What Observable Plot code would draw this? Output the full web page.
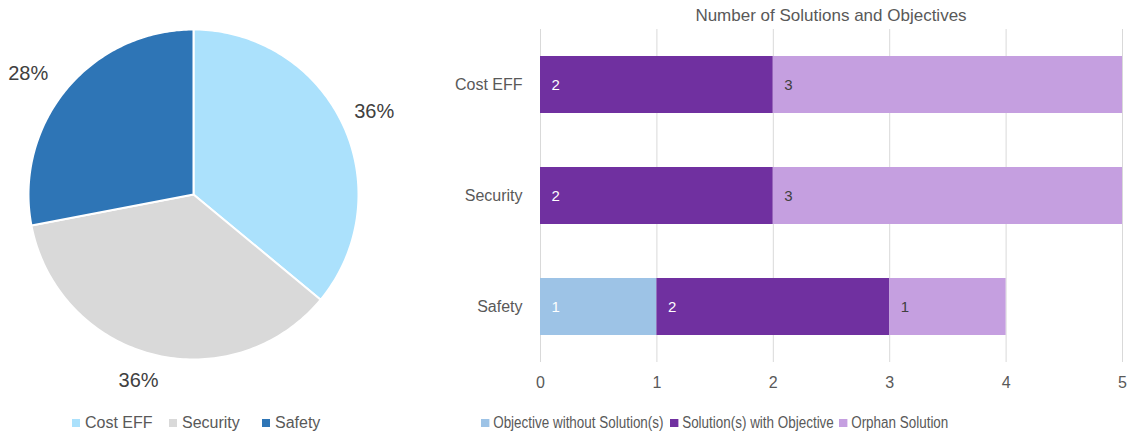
<!DOCTYPE html>
<html>
<head>
<meta charset="utf-8">
<script src="https://cdn.jsdelivr.net/npm/d3@7"></script>
<script src="https://cdn.jsdelivr.net/npm/@observablehq/plot@0.6"></script>
<style>
  html, body { margin: 0; padding: 0; background: #fff; }
  body { width: 1129px; height: 436px; position: relative; overflow: hidden; font-family: "Liberation Sans", Arial, sans-serif; }
  .abs { position: absolute; }
  .leg { position: absolute; top: 414px; font-size: 16px; color: #595959; white-space: nowrap; line-height: 18px; transform-origin: 0 50%; }
  .sw { display: inline-block; width: 8px; height: 8px; margin-right: 5px; vertical-align: 1px; }
  #title { position: absolute; left: 540px; width: 582px; top: 6px; text-align: center; font-size: 17px; color: #595959; }
</style>
</head>
<body>
<div id="pie" class="abs" style="left:0;top:0"></div>
<div id="bars" class="abs" style="left:440px;top:0"></div>
<div id="title">Number of Solutions and Objectives</div>
<div id="leg1"></div>
<div id="leg2"></div>
<script>
// ---------- data ----------
const pieCats = ["Cost EFF", "Security", "Safety"];
const pieValues = [36, 36, 28];
const pieColors = ["#ABE1FC", "#D9D9D9", "#2E75B6"];

const barCats = ["Cost EFF", "Security", "Safety"];
const seriesNames = ["Objective without Solution(s)", "Solution(s) with Objective", "Orphan Solution"];
const objWithoutSol = [0, 0, 1];
const solWithObj = [2, 2, 2];
const orphanSol = [3, 3, 1];
const seriesColors = ["#9DC3E6", "#7030A0", "#C59FE0"];
const xTicks = [0, 1, 2, 3, 4, 5];

const FONT = "Liberation Sans, Arial, sans-serif";

// ---------- pie ----------
const R = 165, cx = 193, cy = 194, PW = 386, PH = 400;
const arcs = d3.pie().sort(null).value(d => d.v)(pieCats.map((c, i) => ({c, v: pieValues[i]})));
const polys = [];
arcs.forEach(a => {
  const n = 120;
  polys.push({c: a.data.c, px: 0, py: 0});
  for (let k = 0; k <= n; k++) {
    const t = a.startAngle + (a.endAngle - a.startAngle) * k / n;
    polys.push({c: a.data.c, px: Math.sin(t), py: Math.cos(t)});
  }
  polys.push({c: a.data.c, px: 0, py: 0});
});
const labelRadius = [1.21, 1.16, 1.25];
const labelTurn = [0, 0.04, -0.05];
const pieLabels = arcs.map((a, i) => {
  const m = (a.startAngle + a.endAngle) / 2 + labelTurn[i];
  const total = d3.sum(pieValues);
  return {c: a.data.c, px: labelRadius[i] * Math.sin(m), py: labelRadius[i] * Math.cos(m) - 0.015, t: Math.round(a.data.v / total * 100) + "%"};
});

const pie = Plot.plot({
  width: PW, height: PH, margin: 0,
  style: {fontFamily: FONT, overflow: "visible"},
  x: {domain: [-cx / R, (PW - cx) / R], range: [0, PW], axis: null},
  y: {domain: [cy / R, -(PH - cy) / R], range: [0, PH], axis: null},
  color: {domain: pieCats, range: pieColors},
  marks: [
    Plot.line(polys, {x: "px", y: "py", z: "c", fill: "c", stroke: "white", strokeWidth: 2, strokeLinejoin: "round", curve: "linear"}),
    Plot.text(pieLabels, {x: "px", y: "py", text: "t", fontSize: 20, fill: "#404040"})
  ]
});
document.getElementById("pie").appendChild(pie);

// ---------- bars ----------
const rows = [];
barCats.forEach((c, i) => {
  [objWithoutSol, solWithObj, orphanSol].forEach((arr, j) => {
    if (arr[i] > 0) rows.push({cat: c, series: seriesNames[j], value: arr[i]});
  });
});

const bars = Plot.plot({
  width: 689, height: 400,
  marginLeft: 100, marginRight: 7, marginTop: 29, marginBottom: 38,
  style: {fontFamily: FONT, fontSize: "16px", color: "#595959", overflow: "visible"},
  x: {domain: [0, 5], ticks: xTicks, tickSize: 0, tickPadding: 14, label: null, tickFormat: d => d},
  y: {domain: barCats, paddingInner: 0.486, paddingOuter: 0.243, tickSize: 0, tickPadding: 18, label: null},
  color: {domain: seriesNames, range: seriesColors},
  marks: [
    Plot.ruleX(xTicks, {stroke: "#D9D9D9", strokeWidth: 1}),
    Plot.barX(rows, Plot.stackX({x: "value", y: "cat", fill: "series", inset: 0})),
    Plot.text(rows.filter(d => d.series !== "Orphan Solution"), Plot.stackX1({x: "value", y: "cat", z: "series", text: "value", dx: 11, textAnchor: "start", fill: "white", fontSize: 15})),
    Plot.text(rows, Plot.stackX1({x: "value", y: "cat", z: "series", text: d => d.series === "Orphan Solution" ? d.value : "", dx: 11, textAnchor: "start", fill: "#404040", fontSize: 15}))
  ]
});
document.getElementById("bars").appendChild(bars);

// ---------- legends ----------
function legend(id, names, colors, lefts, sx) {
  const host = document.getElementById(id);
  names.forEach((n, i) => {
    const d = document.createElement("div");
    d.className = "leg";
    d.style.left = lefts[i] + "px";
    d.style.transform = `scaleX(${sx})`;
    d.innerHTML = `<span class="sw" style="background:${colors[i]};width:${(8 / sx).toFixed(1)}px"></span>${n}`;
    host.appendChild(d);
  });
}
legend("leg1", pieCats, pieColors, [72, 169, 262], 1);
legend("leg2", seriesNames, seriesColors, [481, 670, 839], 0.84);
</script>
</body>
</html>
